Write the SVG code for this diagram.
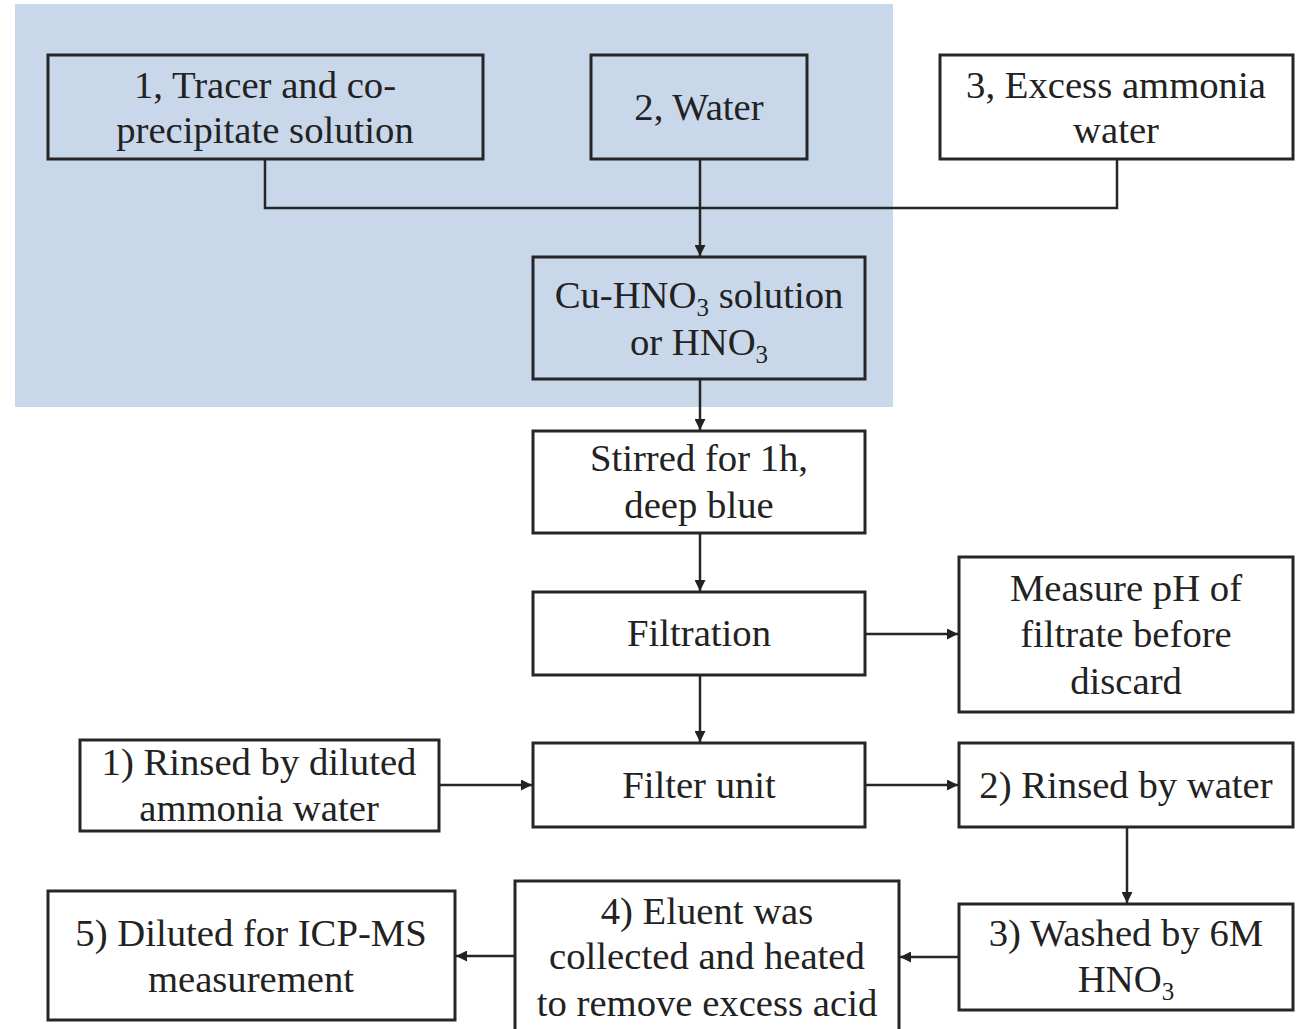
<svg xmlns="http://www.w3.org/2000/svg" width="1306" height="1029" viewBox="0 0 1306 1029">
<defs>
<marker id="ah" viewBox="0 0 10 10" refX="10" refY="5" markerWidth="5" markerHeight="4.4" orient="auto" markerUnits="strokeWidth">
<path d="M0,0 L10,5 L0,10 z" fill="#222"/>
</marker>
<style>
.box{fill:none;stroke:#262626;stroke-width:3}
.wbox{fill:#fff;stroke:#262626;stroke-width:3}
.t{font-family:"Liberation Serif","Times New Roman",serif;font-size:38.7px;fill:#222;text-anchor:middle}
.sub{font-size:25px}
.c{fill:none;stroke:#262626;stroke-width:2.5}
</style>
</defs>
<rect width="1306" height="1029" fill="#fff"/>
<rect x="15" y="4" width="878" height="403" fill="#c9d7ea"/>

<g id="connectors">
<polyline class="c" points="265,159 265,208 1117,208 1117,159"/>
<line class="c" x1="700" y1="159" x2="700" y2="256" marker-end="url(#ah)"/>
<line class="c" x1="700" y1="379" x2="700" y2="430" marker-end="url(#ah)"/>
<line class="c" x1="700" y1="533" x2="700" y2="591" marker-end="url(#ah)"/>
<line class="c" x1="865" y1="634" x2="958" y2="634" marker-end="url(#ah)"/>
<line class="c" x1="700" y1="675" x2="700" y2="742" marker-end="url(#ah)"/>
<line class="c" x1="439" y1="785" x2="532" y2="785" marker-end="url(#ah)"/>
<line class="c" x1="865" y1="785" x2="958" y2="785" marker-end="url(#ah)"/>
<line class="c" x1="1127" y1="827" x2="1127" y2="903" marker-end="url(#ah)"/>
<line class="c" x1="959" y1="957" x2="900" y2="957" marker-end="url(#ah)"/>
<line class="c" x1="515" y1="956" x2="456" y2="956" marker-end="url(#ah)"/>
</g>

<g id="n1">
<rect class="box" x="48" y="55" width="435" height="104"/>
<text class="t" x="265" y="98">1, Tracer and co-</text>
<text class="t" x="265" y="143">precipitate solution</text>
</g>
<g id="n2">
<rect class="box" x="591" y="55" width="216" height="104"/>
<text class="t" x="699" y="120">2, Water</text>
</g>
<g id="n3">
<rect class="wbox" x="940" y="55" width="353" height="104"/>
<text class="t" x="1116" y="98">3, Excess ammonia</text>
<text class="t" x="1116" y="143">water</text>
</g>
<g id="n4">
<rect class="box" x="533" y="257" width="332" height="122"/>
<text class="t" x="699" y="308">Cu-HNO<tspan class="sub" dy="8">3</tspan><tspan dy="-8"> solution</tspan></text>
<text class="t" x="699" y="355">or HNO<tspan class="sub" dy="8">3</tspan></text>
</g>
<g id="n5">
<rect class="wbox" x="533" y="431" width="332" height="102"/>
<text class="t" x="699" y="471">Stirred for 1h,</text>
<text class="t" x="699" y="518">deep blue</text>
</g>
<g id="n6">
<rect class="wbox" x="533" y="592" width="332" height="83"/>
<text class="t" x="699" y="646">Filtration</text>
</g>
<g id="n7">
<rect class="wbox" x="959" y="557" width="334" height="155"/>
<text class="t" x="1126" y="601">Measure pH of</text>
<text class="t" x="1126" y="647">filtrate before</text>
<text class="t" x="1126" y="694">discard</text>
</g>
<g id="n8">
<rect class="wbox" x="533" y="743" width="332" height="84"/>
<text class="t" x="699" y="798">Filter unit</text>
</g>
<g id="n9">
<rect class="wbox" x="80" y="740" width="359" height="91"/>
<text class="t" x="259" y="775">1) Rinsed by diluted</text>
<text class="t" x="259" y="821">ammonia water</text>
</g>
<g id="n10">
<rect class="wbox" x="959" y="743" width="334" height="84"/>
<text class="t" x="1126" y="798">2) Rinsed by water</text>
</g>
<g id="n11">
<rect class="wbox" x="959" y="904" width="334" height="106"/>
<text class="t" x="1126" y="946">3) Washed by 6M</text>
<text class="t" x="1126" y="992">HNO<tspan class="sub" dy="8">3</tspan></text>
</g>
<g id="n12">
<rect class="wbox" x="515" y="881" width="384" height="160"/>
<text class="t" x="707" y="924">4) Eluent was</text>
<text class="t" x="707" y="969">collected and heated</text>
<text class="t" x="707" y="1016">to remove excess acid</text>
</g>
<g id="n13">
<rect class="wbox" x="48" y="891" width="407" height="129"/>
<text class="t" x="251" y="946">5) Diluted for ICP-MS</text>
<text class="t" x="251" y="992">measurement</text>
</g>
</svg>
